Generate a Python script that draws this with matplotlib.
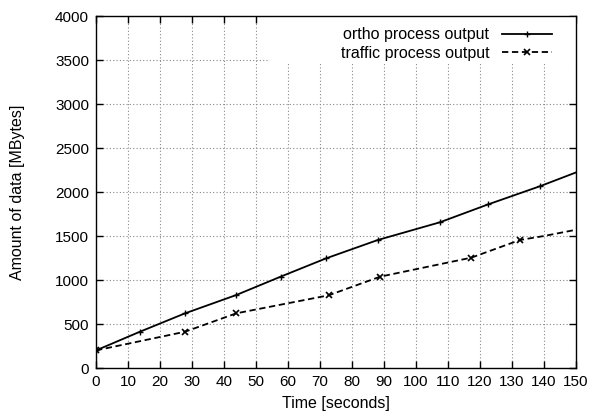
import numpy as np
import matplotlib
matplotlib.use("Agg")
import matplotlib.pyplot as plt
from matplotlib.patches import Rectangle

plt.rcParams['font.family'] = ['Liberation Sans', 'DejaVu Sans']

# ortho process output (last point only continues the line, no marker)
ortho_t = [0, 13.7, 27.8, 43.8, 57.7, 71.9, 88.1, 107.4, 122.6, 138.7, 152]
ortho_mb = [200, 412, 621, 829, 1038, 1246, 1455, 1655, 1860, 2065, 2250]

# traffic process output
traffic_t = [0, 27.8, 43.8, 72.7, 88.8, 117.3, 132.5, 140, 152]
traffic_mb = [200, 412, 621, 826, 1038, 1254, 1455, 1500, 1585]

xticks = np.arange(0, 151, 10)
yticks = np.arange(0, 4001, 500)

fig = plt.figure(figsize=(5.93, 4.19), dpi=100)
ax = fig.add_axes([0.1619, 0.1217, 0.8094, 0.8401])

ax.plot(ortho_t, ortho_mb, '-', color='black', lw=1.3, marker='+', ms=5,
        mew=1.0, markevery=list(range(len(ortho_t) - 1)),
        label='ortho process output', zorder=3)
ax.plot(traffic_t, traffic_mb, '--', color='black', lw=1.3, marker='x', ms=4,
        mew=1.2, dashes=(3.5, 2),
        markevery=[0, 1, 2, 3, 4, 5, 6],
        label='traffic process output', zorder=3)

ax.set_xlim(0, 150)
ax.set_ylim(0, 4000)
ax.set_xticks(xticks)
ax.set_yticks(yticks)
ax.grid(True, color='#888888', linestyle=(0, (1, 2)), linewidth=0.8)
ax.set_axisbelow(True)

# white key box hiding the grid behind the legend (gnuplot style)
ax.add_patch(Rectangle((0.3625, 0.869), 0.64, 0.135, transform=ax.transAxes,
                       facecolor='white', edgecolor='none', zorder=1,
                       clip_on=True))

ax.tick_params(direction='in', top=True, right=True, length=5, width=1,
               labelsize=11, pad=5)
for s in ax.spines.values():
    s.set_linewidth(1.0)
    s.set_zorder(4)

ax.set_xlabel('Time [seconds]', fontsize=11.5, labelpad=5)
ax.set_ylabel('Amount of data [MBytes]', fontsize=11.5, labelpad=22)

leg = ax.legend(loc='upper right', bbox_to_anchor=(0.9625, 0.986),
                markerfirst=False, fontsize=11.5,
                frameon=False, handlelength=3.1,
                borderaxespad=0, labelspacing=0.2, handletextpad=0.8,
                borderpad=0.4)
for t in leg.get_texts():
    t.set_ha('right')

fig.savefig('out.png', dpi=100)
